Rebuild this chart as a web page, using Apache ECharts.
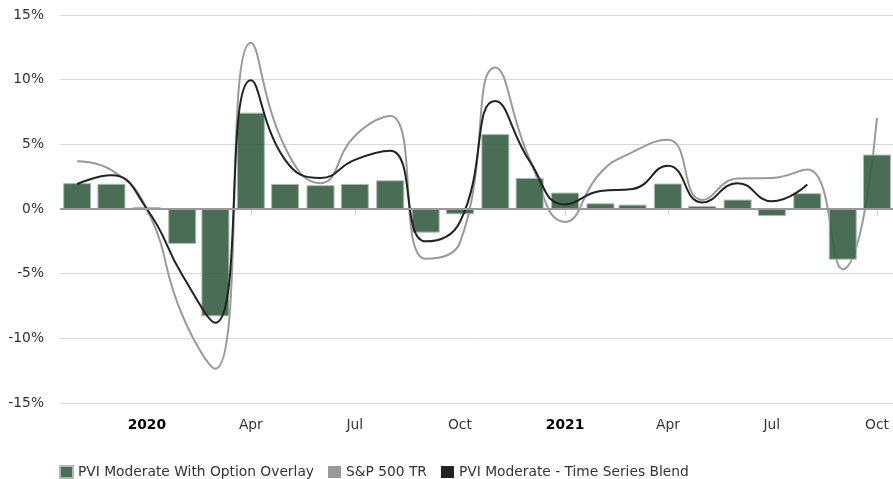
<!DOCTYPE html>
<html>
<head>
<meta charset="utf-8">
<script src="https://cdn.jsdelivr.net/npm/echarts@6/dist/echarts.min.js"></script>
<style>
  html, body { margin: 0; padding: 0; background: #fff; }
  #chart { width: 893px; height: 479px; }
</style>
</head>
<body>
<div id="chart"></div>
<script>
// monthly dates (bars and lines are placed at month start)
const months = [
  '2019-11-01', '2019-12-01', '2020-01-01', '2020-02-01', '2020-03-01', '2020-04-01',
  '2020-05-01', '2020-06-01', '2020-07-01', '2020-08-01', '2020-09-01', '2020-10-01',
  '2020-11-01', '2020-12-01', '2021-01-01', '2021-02-01', '2021-03-01', '2021-04-01',
  '2021-05-01', '2021-06-01', '2021-07-01', '2021-08-01', '2021-09-01', '2021-10-01'
]
// PVI Moderate With Option Overlay (bars, %)
const overlay = [2.0, 1.95, 0.15, -2.7, -8.3, 7.45, 1.94, 1.84, 1.94, 2.22, -1.83, -0.41,
  5.79, 2.4, 1.27, 0.44, 0.34, 1.97, 0.23, 0.73, -0.54, 1.22, -3.92, 4.21]
// S&P 500 TR (%)
const sp500 = [3.7, 3.0, 0.0, -8.2, -12.35, 12.85, 4.75, 2.0, 5.65, 7.2, -3.85, -2.6,
  10.95, 3.85, -1.0, 2.8, 4.4, 5.35, 0.7, 2.35, 2.4, 3.05, -4.65, 7.05]
// PVI Moderate - Time Series Blend (%), ends Aug 2021
const blend = [1.93, 2.6, 0.0, -5.1, -8.8, 9.95, 3.8, 2.4, 3.8, 4.5, -2.5, -1.0,
  8.35, 3.7, 0.35, 1.4, 1.55, 3.35, 0.5, 2.0, 0.6, 1.9]
// x axis ticks (quarter starts)
const tickDates = ['2020-01-01', '2020-04-01', '2020-07-01', '2020-10-01',
  '2021-01-01', '2021-04-01', '2021-07-01', '2021-10-01']
const monthNames = ['Jan', 'Feb', 'Mar', 'Apr', 'May', 'Jun', 'Jul', 'Aug', 'Sep', 'Oct', 'Nov', 'Dec']

const ts = d => new Date(d + 'T00:00:00Z').getTime()
const pair = (vals) => vals.map((v, i) => [ts(months[i]), v])
const font = '"DejaVu Sans", Verdana, sans-serif'
const fs = 13.8

const chart = echarts.init(document.getElementById('chart'))
chart.setOption({
  animation: false,
  backgroundColor: '#fff',
  textStyle: { fontFamily: font },
  grid: { left: 60, right: 0, top: 15, bottom: 76 },
  legend: {
    left: 59,
    top: 465,
    padding: 0,
    icon: 'rect',
    itemWidth: 13,
    itemHeight: 12,
    itemGap: 14,
    textStyle: { fontFamily: font, fontSize: fs, color: '#333' },
    data: ['PVI Moderate With Option Overlay', 'S&P 500 TR', 'PVI Moderate - Time Series Blend']
  },
  xAxis: {
    type: 'value',
    min: ts('2019-10-17'),
    max: ts('2021-10-15'),
    axisLine: { lineStyle: { color: '#ccc' } },
    axisTick: { show: true, length: 6, lineStyle: { color: '#ccc' }, customValues: tickDates.map(ts) },
    splitLine: { show: false },
    axisLabel: {
      customValues: tickDates.map(ts),
      margin: 15,
      fontFamily: font,
      fontSize: fs,
      color: '#333',
      formatter: v => {
        const d = new Date(v)
        const m = d.getUTCMonth()
        return m === 0 ? '{b|' + d.getUTCFullYear() + '}' : monthNames[m]
      },
      rich: { b: { fontWeight: 'bold', fontFamily: font, fontSize: fs, color: '#000' } }
    }
  },
  yAxis: {
    type: 'value',
    min: -15,
    max: 15,
    interval: 5,
    axisLine: { show: false },
    axisTick: { show: false },
    splitLine: { lineStyle: { color: '#d8d8d8' } },
    axisLabel: { formatter: '{value}%', fontFamily: font, fontSize: fs, color: '#333', margin: 16 }
  },
  series: [
    {
      name: 'S&P 500 TR',
      type: 'line',
      smooth: 0.5,
      symbol: 'none',
      z: 1,
      data: pair(sp500),
      lineStyle: { color: '#999', width: 2 },
      itemStyle: { color: '#999' }
    },
    {
      name: 'PVI Moderate With Option Overlay',
      type: 'bar',
      barWidth: 28,
      z: 2,
      data: pair(overlay),
      itemStyle: { color: 'rgba(58,98,70,0.92)', borderColor: '#aabcab', borderWidth: 1 },
      markLine: {
        silent: true,
        symbol: 'none',
        label: { show: false },
        lineStyle: { color: '#999', type: 'solid', width: 2 },
        data: [{ yAxis: 0 }]
      }
    },
    {
      name: 'PVI Moderate - Time Series Blend',
      type: 'line',
      smooth: 0.5,
      symbol: 'none',
      z: 3,
      data: pair(blend),
      lineStyle: { color: '#222', width: 2 },
      itemStyle: { color: '#222' }
    }
  ]
})
</script>
</body>
</html>
